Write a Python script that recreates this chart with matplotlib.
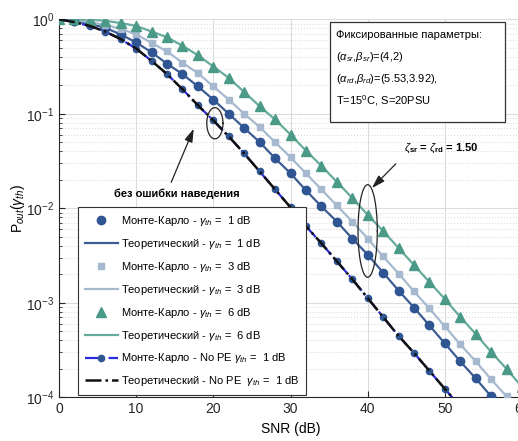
import numpy as np
from matplotlib import pyplot as plt
from matplotlib.patches import Rectangle
from matplotlib.ticker import LogLocator, NullLocator

plt.rcParams['font.family'] = ['Liberation Sans', 'DejaVu Sans']
plt.rcParams['mathtext.fontset'] = 'custom'
plt.rcParams['mathtext.rm'] = 'Liberation Sans'
plt.rcParams['mathtext.it'] = 'Liberation Sans:italic'
plt.rcParams['mathtext.bf'] = 'Liberation Sans:bold'

##### DATA (log10 of P_out) #####
snr = [0, 2, 4, 6, 8, 10, 12, 14, 16, 18, 20, 22, 24, 26, 28, 30,
       32, 34, 36, 38, 40, 42, 44, 46, 48, 50, 52, 54, 56, 58, 60]

log_p_1db = [0, -0.02, -0.05, -0.09, -0.16, -0.245, -0.35, -0.47, -0.58, -0.71, -0.85,
             -1.0, -1.15, -1.30, -1.47, -1.63, -1.81, -1.98, -2.14, -2.32, -2.49,
             -2.68, -2.87, -3.05, -3.24, -3.43, -3.62, -3.80, -3.99, -4.18, -4.36]
log_p_3db = [0, -0.01, -0.03, -0.06, -0.10, -0.16, -0.25, -0.34, -0.46, -0.57, -0.71,
             -0.85, -1.0, -1.14, -1.30, -1.46, -1.63, -1.80, -1.97, -2.14, -2.32,
             -2.51, -2.69, -2.88, -3.06, -3.25, -3.44, -3.62, -3.81, -3.99, -4.18]
log_p_6db = [0, 0, -0.005, -0.015, -0.04, -0.07, -0.13, -0.19, -0.28, -0.38, -0.50,
             -0.62, -0.77, -0.92, -1.06, -1.22, -1.39, -1.55, -1.72, -1.89, -2.07,
             -2.24, -2.42, -2.60, -2.78, -2.96, -3.15, -3.33, -3.52, -3.70, -3.89]
log_p_nope = [0, -0.03, -0.07, -0.13, -0.21, -0.31, -0.44, -0.58, -0.74, -0.91, -1.07,
              -1.24, -1.42, -1.61, -1.80, -1.99, -2.19, -2.37, -2.56, -2.75, -2.95,
              -3.15, -3.35, -3.53, -3.72, -3.91, -4.10, -4.30, -4.49, -4.68, -4.87]

C1 = '#2f5593'
C1L = '#3d5d92'
C3 = '#a6b9cf'
C6 = '#4b9a88'
C6L = '#66ab9c'


def main():
    x = np.array(snr)
    p1 = 10.0 ** np.array(log_p_1db)
    p3 = 10.0 ** np.array(log_p_3db)
    p6 = 10.0 ** np.array(log_p_6db)
    p0 = 10.0 ** np.array(log_p_nope)

    fig = plt.figure(figsize=(5.18, 4.41), dpi=100)
    ax = fig.add_axes([59/518, 43.7/441, 463/518, 378/441])
    ax.set_yscale('log')

    ax.plot(x, p1, ls='none', marker='o', ms=6, color=C1, label=r'Монте-Карло - $\gamma_{th}$ =  1 dB', zorder=4)
    ax.plot(x, p1, ls='-', lw=1.6, color=C1L, label=r'Теоретический - $\gamma_{th}$ =  1 dB', zorder=3)
    ax.plot(x, p3, ls='none', marker='s', ms=4, color=C3, label=r'Монте-Карло - $\gamma_{th}$ =  3 dB', zorder=4)
    ax.plot(x, p3, ls='-', lw=1.6, color=C3, label=r'Теоретический - $\gamma_{th}$ =  3 dB', zorder=3)
    ax.plot(x, p6, ls='none', marker='^', ms=6.5, color=C6, label=r'Монте-Карло - $\gamma_{th}$ =  6 dB', zorder=4)
    ax.plot(x, p6, ls='-', lw=1.6, color=C6L, label=r'Теоретический - $\gamma_{th}$ =  6 dB', zorder=3)
    ax.plot(x, p0, ls='-.', lw=1.6, color='#2a2ae0', marker='o', ms=4.5, mfc=C1, mec=C1,
            label=r'Монте-Карло - No PE $\gamma_{th}$ =  1 dB', zorder=3)
    ax.plot(x, p0, ls='-.', lw=1.8, color='#111111', label=r'Теоретический - No PE  $\gamma_{th}$ =  1 dB', zorder=4)

    ax.set_xlim(0, 60)
    ax.set_ylim(1e-4, 1)
    ax.set_xticks([0, 10, 20, 30, 40, 50, 60])
    ax.xaxis.set_minor_locator(NullLocator())
    ax.yaxis.set_major_locator(LogLocator(base=10, numticks=10))
    ax.yaxis.set_minor_locator(LogLocator(base=10, subs=np.arange(2, 10), numticks=10))
    ax.tick_params(which='both', direction='in', top=False, right=False, labelsize=10, colors='#262626')
    ax.tick_params(which='major', length=4)
    ax.tick_params(which='minor', length=2)
    ax.grid(True, which='major', color='#dcdcdc', lw=0.8, ls='-')
    ax.grid(True, which='minor', axis='y', color='#dcdcdc', lw=0.8, ls=':')
    for s in ['top', 'right']:
        ax.spines[s].set_visible(False)
    for s in ['left', 'bottom']:
        ax.spines[s].set_color('#262626')

    ax.set_xlabel('SNR (dB)', fontsize=10)
    ax.set_ylabel(r'P$_{out}$($\gamma_{th}$)', fontsize=10, labelpad=-1)

    leg = ax.legend(loc='lower left', bbox_to_anchor=(0.041, 0.006), borderaxespad=0,
                    fontsize=8, frameon=True, fancybox=False, framealpha=1,
                    edgecolor='#333333', handlelength=3.0, handletextpad=0.3,
                    labelspacing=0.8, borderpad=0.6)
    leg.get_frame().set_linewidth(0.8)

    # parameter box
    ax.add_patch(Rectangle((0.585, 0.728), 0.378, 0.265, transform=ax.transAxes,
                           fc='white', ec='#333333', lw=0.9, zorder=5))
    lines = ['Фиксированные параметры:',
             r'($\alpha_{sr}$,$\beta_{sr}$)=(4,2)',
             r'($\alpha_{rd}$,$\beta_{rd}$)=(5.53,3.92),',
             r'T=15$^{0}$C, S=20PSU']
    for i, s in enumerate(lines):
        ax.text(0.598, 0.958 - i*0.058, s, transform=ax.transAxes, fontsize=8,
                va='center', ha='left', zorder=6)

    # ellipses
    t = np.linspace(0, 2*np.pi, 200)
    ax.plot(20.2 + 1.05*np.cos(t), 10**(-1.10 + 0.165*np.sin(t)), color='#222222', lw=0.9, zorder=6)
    ax.plot(40.0 + 1.25*np.cos(t), 10**(-2.24 + 0.49*np.sin(t)), color='#222222', lw=0.9, zorder=6)

    arrow = dict(arrowstyle='-|>,head_length=0.8,head_width=0.25', color='#222222', lw=0.9)
    ax.annotate('', xy=(17.6, 0.074), xytext=(14.4, 0.0177), arrowprops=arrow, zorder=6)
    ax.text(15.3, 0.0142, 'без ошибки наведения', fontsize=8, fontweight='bold',
            ha='center', va='center', zorder=6)
    ax.annotate('', xy=(40.3, 0.0156), xytext=(43.9, 0.031), arrowprops=arrow, zorder=6)
    ax.text(49.6, 0.0435, r'$\zeta_{\mathbf{sr}}$ = $\zeta_{\mathbf{rd}}$ = 1.50', fontsize=8,
            fontweight='bold', ha='center', va='center', zorder=6)

    fig.savefig('out.png', dpi=100)


if __name__ == "__main__":
    main()
